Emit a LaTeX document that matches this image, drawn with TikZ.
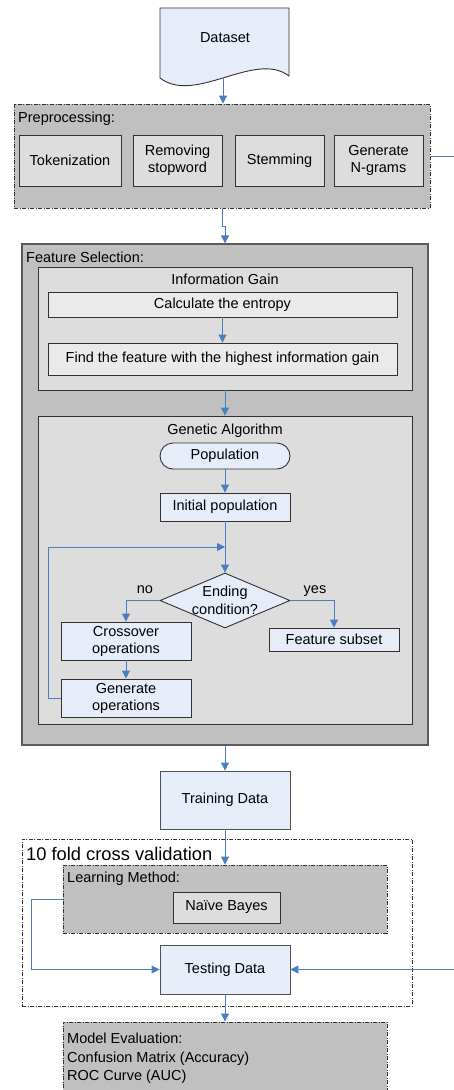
\documentclass[tikz,border=0pt]{standalone}
\usepackage{fontspec}
\setmainfont{Liberation Sans}
\usetikzlibrary{arrows.meta,shapes.geometric}
\definecolor{cblue}{RGB}{74,126,190}
\definecolor{lblue}{RGB}{230,237,248}
\definecolor{outgray}{RGB}{192,192,192}
\definecolor{ingray}{RGB}{221,221,221}
\definecolor{ltgray}{RGB}{234,234,234}
\definecolor{bord}{RGB}{50,50,50}
\tikzset{
  every node/.style={font=\fontsize{14.5}{17}\selectfont},
  box/.style={draw=bord, line width=0.9pt, inner sep=0pt, align=center},
  bluebox/.style={box, fill=lblue},
  graybox/.style={box, fill=ingray},
  outbox/.style={box, fill=outgray},
  dd/.style={dash pattern=on 4pt off 1.5pt on 1pt off 1.5pt},
  conn/.style={draw=cblue, line width=0.9pt, -{Triangle[length=8pt,width=8pt]}},
  lbl/.style={anchor=base west, inner sep=0pt},
  clbl/.style={anchor=base, inner sep=0pt},
}
\begin{document}
\begin{tikzpicture}[x=1pt,y=-1pt]
\useasboundingbox (0,0) rectangle (454,1090);
\clip (0,0) rectangle (454,1090);
\fill[white] (0,0) rectangle (454,1090);

% Dataset document shape
\draw[draw=bord, line width=0.9pt, fill=lblue] (160,8) -- (289,8) -- (289,76)
  .. controls (255,50) and (195,105) .. (160,78) -- cycle;
\node (ds) at (225,38) {Dataset};
\coordinate (dsb) at (223,77);

% Preprocessing
\node[outbox, dd, minimum width=416pt, minimum height=104pt] (pre) at (222,156) {};
\node[lbl] (prel) at (18,122) {Preprocessing:};
\node[graybox, minimum width=102pt, minimum height=51pt] (tok) at (70,160.5) {Tokenization};
\node[graybox, minimum width=89pt, minimum height=51pt] (rem) at (177.5,160.5) {Removing\\stopword};
\node[graybox, minimum width=89pt, minimum height=51pt] (stem) at (279.5,160.5) {Stemming};
\node[graybox, minimum width=89pt, minimum height=51pt] (ngr) at (378.5,160.5) {Generate\\N-grams};

% Feature selection
\node[outbox, draw=bord!80, line width=1.2pt, minimum width=406pt, minimum height=501pt] (fs) at (225,494.5) {};
\node[lbl] (fsl) at (26,262) {Feature Selection:};

% Information gain
\node[graybox, minimum width=374pt, minimum height=123pt] (ig) at (225,328.5) {};
\node[clbl] (igl) at (225,284) {Information Gain};
\node[box, fill=ltgray, minimum width=349pt, minimum height=25pt] (ce) at (222.5,304.5) {Calculate the entropy};
\node[box, fill=ltgray, minimum width=349pt, minimum height=32pt] (ff) at (222.5,359) {Find the feature with the highest information gain};

% Genetic algorithm
\node[graybox, minimum width=374pt, minimum height=308pt] (ga) at (225,570) {};
\node[clbl] (gal) at (225,434) {Genetic Algorithm};
\node[bluebox, rounded corners=13pt, minimum width=130pt, minimum height=26pt] (pop) at (225,456) {Population};
\node[bluebox, minimum width=130pt, minimum height=28pt] (ip) at (225,507) {Initial population};
\node[diamond, draw=bord, line width=0.9pt, fill=lblue, inner sep=0pt,
      minimum width=130pt, minimum height=55pt,
      label={[align=center, font=\fontsize{14.5}{17.5}\selectfont]center:Ending\\condition?}] (cond) at (225,600.5) {};
\node[clbl] (no) at (145,593) {no};
\node[clbl] (yes) at (315,593) {yes};
\node[bluebox, minimum width=130pt, minimum height=38pt] (co) at (126,641) {Crossover\\operations};
\node[bluebox, minimum width=130pt, minimum height=23pt] (fsub) at (334,639.5) {Feature subset};
\node[bluebox, minimum width=130pt, minimum height=38pt] (gen) at (126,698) {Generate\\operations};
\coordinate (join) at (225,547);

% Training data
\node[bluebox, draw=bord!85, minimum width=130pt, minimum height=58pt] (td) at (225,800) {Training Data};

% 10 fold cross validation
\node[draw=bord, line width=0.9pt, dd, minimum width=390pt, minimum height=167pt, inner sep=0pt] (cv) at (217,922.5) {};
\node[lbl, font=\fontsize{18.3}{21}\selectfont] (cvl) at (26,860) {10 fold cross validation};
\node[outbox, dd, minimum width=324pt, minimum height=68pt] (lm) at (225,899) {};
\node[lbl] (lml) at (67,882) {Learning Method:};
\node[graybox, minimum width=107pt, minimum height=31pt] (nb) at (226.5,907.5) {Naïve Bayes};
\node[bluebox, draw=bord!85, minimum width=130pt, minimum height=49pt] (test) at (225,969.5) {Testing Data};

% Model evaluation
\node[outbox, dd, minimum width=324pt, minimum height=90pt] (me) at (225,1067) {};
\node[anchor=north west, align=left, inner sep=0pt, font=\fontsize{14.5}{18.5}\selectfont] (mel) at (67,1033)
  {Model Evaluation:\\Confusion Matrix (Accuracy)\\ROC Curve (AUC)};

% Connectors
\draw[conn] (dsb) -- (dsb |- pre.north);
\draw[conn] (pre.south) -- ++(0,18) -| (fs.north);
\draw[conn] (ce) -- (ff);
\draw[conn] (ig) -- (ga);
\draw[conn] (pop) -- (ip);
\draw[conn] (ip) -- (cond.north);
\draw[conn] (gen.west) -- ++(-12,0) |- (join);
\draw[conn] (cond.west) -| (co.north);
\draw[conn] (cond.east) -| (fsub.north);
\draw[conn] (co) -- (gen);
\draw[conn] (fs) -- (td);
\draw[conn] (td) -- (lm);
\draw[conn] (lm.west) -- ++(-31,0) |- (test.west);
\draw[conn] (test) -- (me);
\draw[conn] (pre.east) -- ++(40,0) |- (test.east);
\end{tikzpicture}
\end{document}
